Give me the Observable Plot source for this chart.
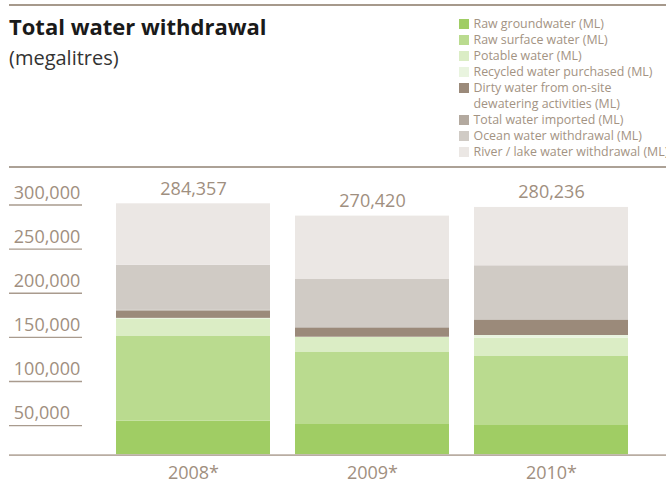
<!DOCTYPE html>
<html>
<head>
<meta charset="utf-8">
<script src="https://cdn.jsdelivr.net/npm/d3@7"></script>
<script src="https://cdn.jsdelivr.net/npm/@observablehq/plot@0.6"></script>
<style>
  html, body { margin: 0; padding: 0; background: #fff; }
  body { width: 666px; height: 479px; overflow: hidden; position: relative; font-family: "Open Sans", sans-serif; }
  .rule-top { position: absolute; left: 9px; top: 4px; width: 657px; height: 2px; background: #a6998c; }
  .rule-mid { position: absolute; left: 9px; top: 166px; width: 657px; height: 1.5px; background: #aca196; }
  .title { position: absolute; left: 9px; top: 15px; font-size: 22px; line-height: 22px; font-weight: 700; color: #1a1a1a; white-space: nowrap; }
  .subtitle { position: absolute; left: 9px; top: 48px; font-size: 20px; line-height: 20px; color: #333; white-space: nowrap; }
  .legend { position: absolute; left: 459px; top: 16px; font-size: 12.4px; line-height: 16px; color: #a39383; white-space: pre; }
  .legend .row { position: relative; padding-left: 14.5px; }
  .legend .sw { position: absolute; left: 0; top: 3px; width: 10px; height: 10px; }
  #chart { position: absolute; left: 0; top: 160px; }
</style>
</head>
<body>
<div class="rule-top"></div>
<div class="title">Total water withdrawal</div>
<div class="subtitle">(megalitres)</div>
<div class="legend" id="legend"></div>
<div class="rule-mid"></div>
<div id="chart"></div>
<script>
const years = ["2008*", "2009*", "2010*"];
const totals = [284357, 270420, 280236];
const series = [
  "Raw groundwater (ML)",
  "Raw surface water (ML)",
  "Potable water (ML)",
  "Recycled water purchased (ML)",
  "Dirty water from on-site dewatering activities (ML)",
  "Total water imported (ML)",
  "Ocean water withdrawal (ML)",
  "River / lake water withdrawal (ML)"
];
const legendLabels = [
  "Raw groundwater (ML)",
  "Raw surface water (ML)",
  "Potable water (ML)",
  "Recycled water purchased (ML)",
  "Dirty water from on-site\ndewatering activities (ML)",
  "Total water imported (ML)",
  "Ocean water withdrawal (ML)",
  "River / lake water withdrawal (ML)"
];
const colors = ["#a0cd64", "#badb8f", "#dbedc5", "#e9f4df", "#9b8a7a", "#b3a99f", "#d0cbc5", "#ebe7e4"];

const rawGroundwater = [38070, 34330, 33200];
const rawSurfaceWater = [95970, 81580, 78180];
const potableWater = [19830, 17000, 20730];
const recycledWater = [700, 300, 3060];
const dirtyWater = [8270, 10200, 17000];
const importedWater = [800, 800, 800];
const oceanWater = [50990, 54380, 61180];
const riverLakeWater = [69727, 71830, 66086];

const yTicks = [50000, 100000, 150000, 200000, 250000, 300000];

const seriesValues = [rawGroundwater, rawSurfaceWater, potableWater, recycledWater, dirtyWater, importedWater, oceanWater, riverLakeWater];
const rows = [];
series.forEach((s, si) => years.forEach((y, yi) => rows.push({year: y, series: s, value: seriesValues[si][yi]})));
const totalRows = years.map((y, i) => ({year: y, total: totals[i]}));

const textColor = "#9f8f80";
const fmt = d3.format(",");

// legend
const legend = document.getElementById("legend");
series.forEach((s, i) => {
  const row = document.createElement("div");
  row.className = "row";
  const sw = document.createElement("span");
  sw.className = "sw";
  sw.style.background = colors[i];
  row.appendChild(sw);
  row.appendChild(document.createTextNode(legendLabels[i]));
  legend.appendChild(row);
});

const decorations = (index, scales, values, dimensions) => {
  const y = scales.y;
  const g = d3.create("svg:g");
  yTicks.forEach(t => {
    g.append("line")
      .attr("x1", 9).attr("x2", 82)
      .attr("y1", y(t) + 15.5).attr("y2", y(t) + 15.5)
      .attr("stroke", "#a99b8e").attr("stroke-width", 1.4);
  });
  g.append("line")
    .attr("x1", 9).attr("x2", dimensions.width)
    .attr("y1", y(0) + 0.8).attr("y2", y(0) + 0.8)
    .attr("stroke", "#b9ada2").attr("stroke-width", 1.6);
  return g.node();
};

const plot = Plot.plot({
  width: 666,
  height: 319,
  marginTop: 29.5,
  marginBottom: 24.7,
  marginLeft: 89.5,
  marginRight: 12.5,
  style: {fontFamily: "Open Sans, sans-serif", background: "transparent"},
  x: {domain: years, padding: 0.142},
  y: {domain: [0, 300000]},
  color: {domain: series, range: colors},
  marks: [
    Plot.barY(rows, {x: "year", y: "value", fill: "series", order: series}),
    decorations,
    Plot.axisY({ticks: yTicks, tickFormat: fmt, tickSize: 0, tickPadding: 76.2, textAnchor: "start", dy: 3, fontSize: 18, fill: textColor, label: null}),
    Plot.axisX({tickSize: 0, tickPadding: 11, fontSize: 18, fill: textColor, label: null}),
    Plot.text(totalRows, {x: "year", y: "total", text: d => fmt(d.total), dy: -15, fontSize: 18, fill: textColor})
  ]
});
document.getElementById("chart").appendChild(plot);
</script>
</body>
</html>
